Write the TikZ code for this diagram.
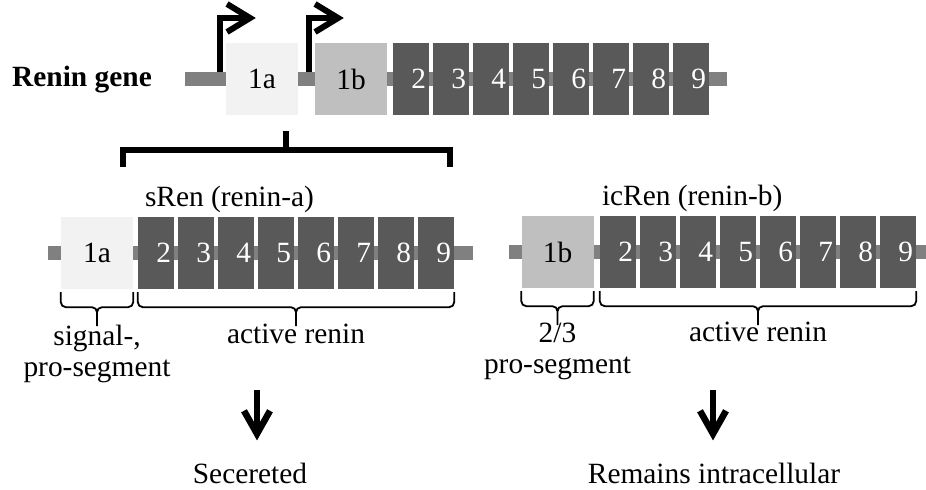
\documentclass[tikz,border=0pt]{standalone}
\usepackage{fontspec}
\setmainfont{Liberation Serif}
\usetikzlibrary{arrows.meta,calc,positioning}

\definecolor{exlight}{HTML}{F2F2F2}
\definecolor{exmid}{HTML}{BFBFBF}
\definecolor{exdark}{HTML}{595959}
\definecolor{introngray}{HTML}{808080}

\begin{document}
\begin{tikzpicture}[x=1bp,y=-1bp,
    every node/.style={font=\fontsize{29.5}{31}\selectfont, inner sep=0pt},
    exon/.style={minimum width=72bp, minimum height=72bp, fill=#1},
    num/.style={minimum width=36bp, minimum height=72bp, text width=30bp,
      align=right, fill=exdark, text=white},
    intron/.style={draw=introngray, line width=14bp},
    promoter/.style={line width=6bp, -{Straight Barb[length=23bp,width=28bp]}},
    flow/.style={line width=6.5bp, -{Straight Barb[length=23bp,width=26bp]}},
    bracket/.style={line width=6.5bp},
    ubrace/.style={line width=1.8bp, rounded corners=5bp,
      to path={let \p1=(\tikztostart), \p2=(\tikztotarget),
        \p3=($(\tikztostart)!.5!(\tikztotarget)$) in
        (\p1) -- (\x1,\y1-15bp) -- (\x3,\y1-15bp) -- (\x3,\y1-34bp)
        (\p2) -- (\x2,\y1-15bp) -- (\x3,\y1-15bp) -- (\x3,\y1-34bp)}}]
\useasboundingbox (0,0) rectangle (926,490);

% renin gene
\draw[intron] (185,79) coordinate (gs) -- (727,79);
\node[exon=exlight] (g1a) at (262,79) {1a};
\node[exon=exmid] (g1b) at (351,79) {1b};
\foreach \k in {2,...,9}
  \node[num] (g\k) at ({411+40*(\k-2)},79) {\k};
\node[anchor=base east, font=\fontsize{29.5}{31}\selectfont\bfseries] (rg)
  at ($(gs)+(-33,8)$) {Renin gene};
\draw[promoter] ($(g1a.west)+(-6,-7)$) |- ++(36,-54);
\draw[promoter] ($(g1b.west)+(-6,-7)$) |- ++(35,-54);

% splicing bracket
\coordinate (bm) at (286,150);
\draw[bracket] (123,167) |- (bm) -| (450,167);
\draw[bracket] (bm) -- (286,131);

% sRen
\draw[intron] (48,253) -- (473,253);
\node[exon=exlight] (s1a) at (97,253) {1a};
\foreach \k in {2,...,9}
  \node[num] (s\k) at ({156+40*(\k-2)},253) {\k};
\node[anchor=base west] (sren) at ($(s2.north west)+(7,-10)$) {sRen (renin-a)};
\draw[ubrace] ([yshift=-3bp]s1a.south west) to ([yshift=-3bp]s1a.south east);
\draw[ubrace] ([yshift=-3bp]s2.south west) to ([yshift=-3bp]s9.south east);
\node[align=center, anchor=north] (ssig) at ($(s1a.south)+(0,36)$) {signal-,\\pro-segment};
\node[anchor=north] (sact) at ($(s2.south west)!.5!(s9.south east)+(0,35)$) {active renin};

% icRen
\draw[intron] (509,252) -- (926,252);
\node[exon=exmid] (i1b) at (557.5,252) {1b};
\foreach \k in {2,...,9}
  \node[num] (i\k) at ({618+40*(\k-2)},252) {\k};
\node[anchor=base west] (icren) at ($(i2.north west)+(2,-10)$) {icRen (renin-b)};
\draw[ubrace] ([yshift=-3bp]i1b.south west) to ([yshift=-3bp]i1b.south east);
\draw[ubrace] ([yshift=-3bp]i2.south west) to ([yshift=-3bp]i9.south east);
\node[align=center, anchor=north] (ipro) at ($(i1b.south)+(0,35)$) {2/3\\pro-segment};
\node[anchor=north] (iact) at ($(i2.south west)!.5!(i9.south east)+(0,34)$) {active renin};

% fate
\node[anchor=base] (sec) at (250,483) {Secereted};
\node[anchor=base] (rem) at (714,483) {Remains intracellular};
\coordinate (sdown) at (257,390);
\coordinate (idown) at (713,390);
\draw[flow, shorten >=22bp] (sdown) -- (sdown |- sec.north);
\draw[flow, shorten >=22bp] (idown) -- (idown |- rem.north);
\end{tikzpicture}
\end{document}
